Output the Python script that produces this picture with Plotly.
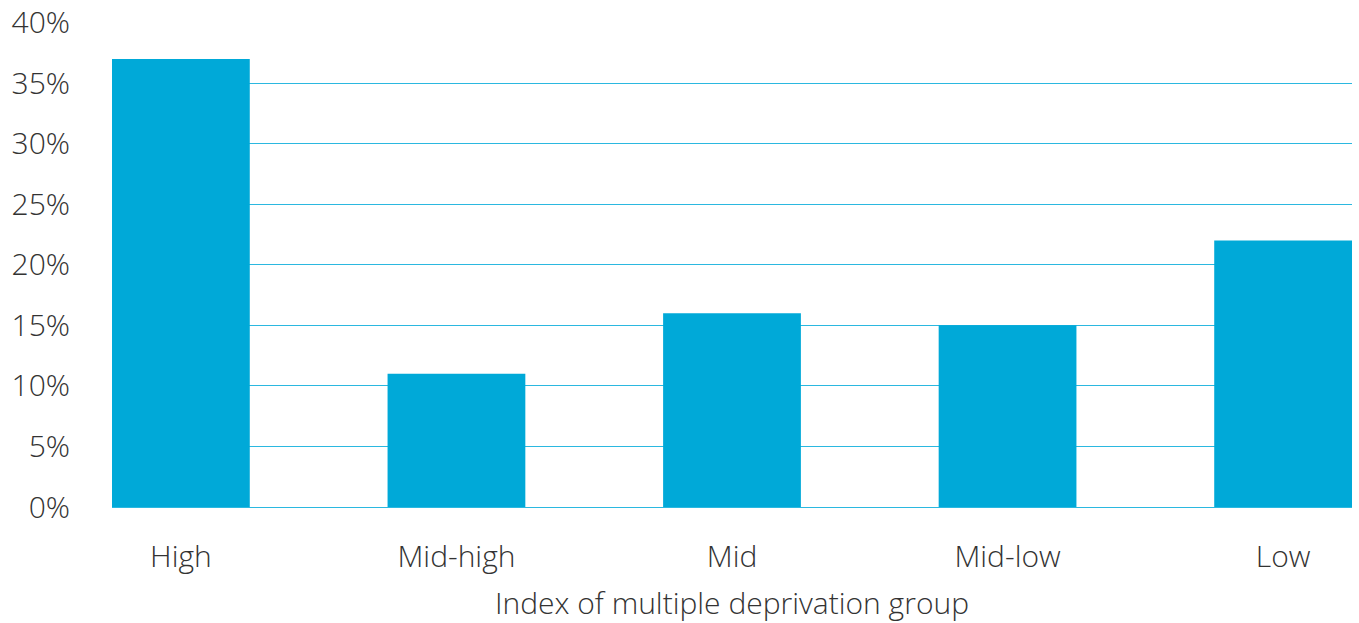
import plotly.graph_objects as go

categories = ["High", "Mid-high", "Mid", "Mid-low", "Low"]
values = [37, 11, 16, 15, 22]
y_ticks = [0, 5, 10, 15, 20, 25, 30, 35, 40]
y_tick_labels = [f"{v}%" for v in y_ticks]

bar_color = "#00a9d8"
grid_color = "#2bb8e0"
font_family = "Open Sans"
text_color = "#333333"
fs = 30

fig = go.Figure(
    go.Bar(x=categories, y=values, marker=dict(color=bar_color, line=dict(width=0)), width=0.5)
)

fig.update_layout(
    width=1359,
    height=623,
    margin=dict(l=112, r=7, t=22, b=116),
    plot_bgcolor="white",
    paper_bgcolor="white",
    showlegend=False,
    font=dict(family=font_family, size=fs, color=text_color, weight=300),
    xaxis=dict(
        type="category",
        range=[-0.25, 4.25],
        automargin=False,
        showgrid=False,
        showline=False,
        ticks="",
        ticklabelstandoff=29,
        ticklabeloverflow="allow",
        tickfont=dict(size=fs, color=text_color, weight=300),
        title=dict(text="Index of multiple deprivation group", font=dict(size=fs, color=text_color, weight=300), standoff=23),
    ),
    yaxis=dict(
        range=[0, 40.05],
        automargin=False,
        tickvals=y_ticks,
        ticktext=y_tick_labels,
        showgrid=True,
        gridcolor=grid_color,
        gridwidth=1,
        zeroline=True,
        zerolinecolor=grid_color,
        zerolinewidth=1,
        ticks="",
        ticklabelstandoff=41,
        ticklabeloverflow="allow",
        tickfont=dict(size=fs, color=text_color, weight=300),
    ),
)

fig.write_html(
    "out.html",
    config={"displayModeBar": False},
    post_script="document.body.style.margin='0';document.body.style.overflow='hidden';",
)
